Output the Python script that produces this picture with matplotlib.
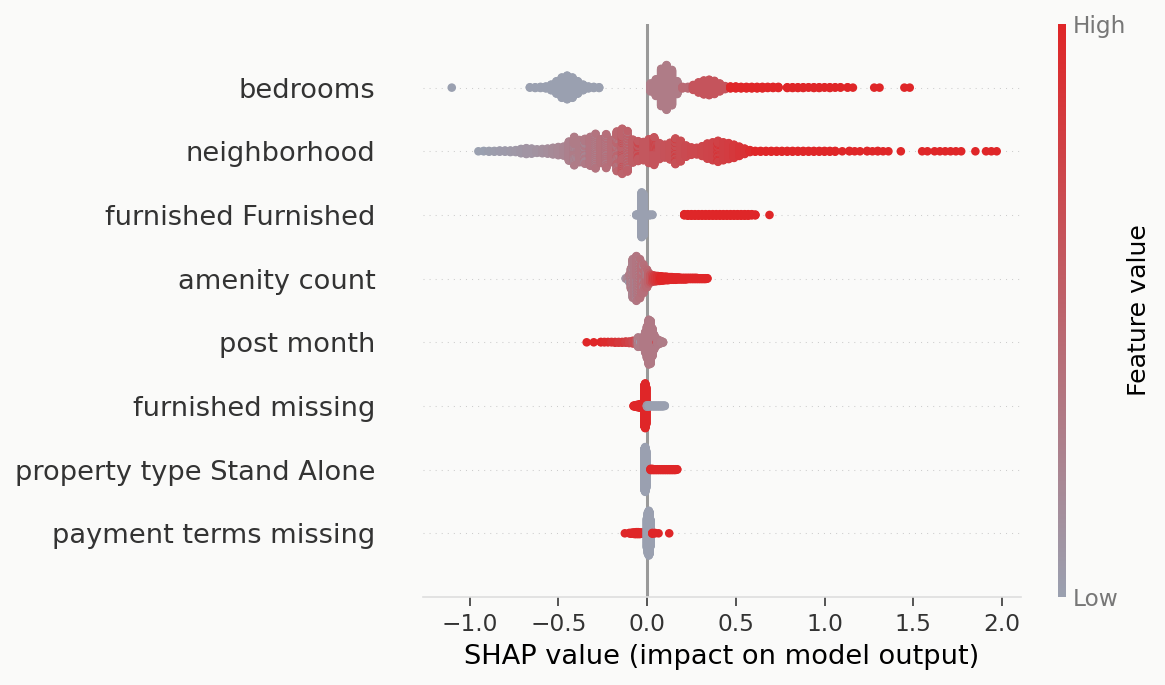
import numpy as np
import matplotlib
matplotlib.use('Agg')
import matplotlib.pyplot as plt
from matplotlib.colors import LinearSegmentedColormap
from matplotlib import cm

# feature names, bottom to top
features = ['payment terms missing', 'property type Stand Alone', 'furnished missing',
            'post month', 'amenity count', 'furnished Furnished', 'neighborhood', 'bedrooms']

# per feature: shap value positions, how many samples sit there, feature value (0=low, 1=high)
bed_x = [-1.10, -0.66, -0.63, -0.60, -0.57, -0.54, -0.51, -0.48, -0.45, -0.42, -0.39, -0.36, -0.33, -0.30, -0.27,
         0.02, 0.05, 0.08, 0.11, 0.14, 0.17, 0.20, 0.23,
         0.26, 0.29, 0.32, 0.35, 0.38, 0.41, 0.44,
         0.47, 0.50, 0.53, 0.56, 0.59, 0.62, 0.65, 0.68, 0.71, 0.74,
         0.79, 0.82, 0.85, 0.88, 0.91, 0.94, 0.97, 1.00, 1.03, 1.06, 1.09,
         1.13, 1.16, 1.28, 1.31, 1.45, 1.48]
bed_n = [1, 2, 3, 4, 6, 16, 34, 55, 64, 55, 34, 16, 6, 4, 3,
         22, 45, 100, 120, 95, 35, 5, 5,
         14, 28, 38, 42, 36, 22, 9,
         6, 6, 5, 5, 5, 5, 5, 4, 4, 4,
         3, 3, 3, 3, 2, 3, 3, 2, 3, 2, 2,
         2, 1, 1, 1, 1, 1]
bed_c = [0.0] * 15 + [0.3] * 6 + [0.45] * 2 + [0.62] * 7 + [1.0] * 27

nb_x = [-0.95, -0.92, -0.89, -0.86, -0.83, -0.80, -0.77, -0.74, -0.71, -0.68, -0.65, -0.62,
        -0.59, -0.56, -0.53, -0.50, -0.47, -0.44, -0.41, -0.38, -0.35, -0.32, -0.29, -0.26,
        -0.23, -0.20, -0.17, -0.14, -0.11, -0.08, -0.05, -0.02, 0.01, 0.04, 0.07, 0.10,
        0.13, 0.16, 0.19, 0.22, 0.25, 0.28, 0.31, 0.34, 0.37, 0.40, 0.43, 0.46, 0.49,
        0.52, 0.55, 0.58,
        0.61, 0.64, 0.67, 0.70, 0.73, 0.76, 0.79, 0.82, 0.85, 0.88, 0.91, 0.94, 0.97, 1.00, 1.03, 1.06,
        1.10, 1.14, 1.17, 1.20, 1.24, 1.27, 1.30, 1.33, 1.36, 1.43, 1.55, 1.58,
        1.62, 1.65, 1.68, 1.71, 1.74, 1.77, 1.85, 1.91, 1.94, 1.97,
        -0.41, -0.35, -0.29, -0.23, -0.17, -0.11, -0.14, -0.05, 0.04, 0.16, 0.40]
nb_n = [1, 2, 3, 3, 4, 4, 5, 6, 12, 16, 14, 10,
        12, 14, 18, 22, 24, 50, 62, 58, 50, 75, 72, 62,
        70, 58, 85, 105, 90, 60, 40, 48, 62, 60, 42, 34,
        44, 57, 54, 30, 20, 18, 26, 40, 47, 45, 47, 42, 35,
        25, 15, 6,
        3, 3, 3, 3, 3, 3, 3, 3, 3, 3, 3, 3, 3, 3, 3, 3,
        1, 2, 1, 1, 2, 1, 2, 1, 1, 1, 1, 1,
        1, 1, 1, 1, 1, 1, 1, 1, 1, 1,
        12, 15, 18, 18, 18, 15, 12, 12, 12, 10, 10]
nb_c = [0.0, 0.0, 0.02, 0.03, 0.04, 0.05, 0.06, 0.07, 0.08, 0.10, 0.10, 0.12,
        0.14, 0.16, 0.18, 0.20, 0.22, 0.26, 0.30, 0.30, 0.32, 0.35, 0.36, 0.38,
        0.40, 0.42, 0.48, 0.50, 0.52, 0.55, 0.58, 0.60, 0.60, 0.62, 0.62, 0.64,
        0.65, 0.66, 0.68, 0.70, 0.72, 0.72, 0.74, 0.75, 0.76, 0.78, 0.80, 0.82, 0.85,
        0.88, 0.90, 0.95] + [1.0] * 38 + [0.1, 0.12, 0.15, 0.2, 0.2, 0.25, 0.8, 0.85, 0.9, 0.95, 1.0]

ff_x = [-0.06, -0.05, -0.03, -0.02, 0.00, 0.015, 0.03,
        0.21, 0.23, 0.25, 0.27, 0.29, 0.31, 0.33, 0.35, 0.37, 0.39, 0.41, 0.43, 0.45,
        0.47, 0.49, 0.51, 0.53, 0.55, 0.57, 0.59, 0.61, 0.69]
ff_n = [3, 4, 120, 110, 3, 3, 2,
        4, 5, 5, 5, 5, 5, 5, 5, 5, 5, 5, 5, 5, 5, 5, 5, 5, 5, 5, 4, 3, 1]
ff_c = [0.0] * 7 + [1.0] * 22

am_x = [-0.12, -0.11, -0.10, -0.09, -0.08, -0.07, -0.06, -0.05, -0.04, -0.03, -0.02, -0.01,
        0.00, 0.01, 0.02, 0.03, 0.04, 0.05, 0.06, 0.07, 0.08,
        0.09, 0.10, 0.11, 0.12, 0.13, 0.14, 0.15, 0.16, 0.17, 0.18, 0.19, 0.20, 0.21, 0.22,
        0.23, 0.24, 0.25, 0.26, 0.27, 0.28, 0.29, 0.30, 0.31, 0.32, 0.33, 0.34,
        -0.10, -0.08, -0.06, -0.04, -0.02, 0.00]
am_n = [2, 5, 14, 55, 90, 100, 105, 100, 90, 78, 65, 52,
        40, 30, 22, 18, 16, 15, 14, 13, 12,
        11, 10, 10, 9, 8, 8, 7, 7, 6, 6, 5, 5, 5, 5,
        4, 4, 4, 4, 4, 4, 3, 3, 3, 3, 3, 2,
        6, 14, 15, 15, 12, 8]
am_c = [0.1, 0.2, 0.3, 0.3, 0.3, 0.32, 0.35, 0.35, 0.38, 0.4, 0.4, 0.42,
        0.45, 0.5, 0.6, 0.7, 0.8, 0.85, 0.9, 0.95, 1.0] + [1.0] * 26 + [0.0] * 6

pm_x = [-0.34, -0.30, -0.26, -0.24, -0.22, -0.20, -0.18, -0.16, -0.14, -0.12, -0.10, -0.08, -0.06,
        -0.05, -0.04, -0.03, -0.02, -0.01, 0.00, 0.01, 0.02, 0.03, 0.04, 0.05, 0.06, 0.07, 0.08, 0.09,
        -0.05, -0.035, 0.055]
pm_n = [1, 1, 2, 2, 2, 2, 3, 3, 3, 4, 5, 8, 12,
        20, 22, 25, 30, 55, 85, 120, 115, 75, 40, 22, 14, 10, 6, 3,
        6, 6, 1]
pm_c = [1.0, 1.0, 1.0, 0.95, 0.95, 0.9, 0.9, 0.85, 0.85, 0.8, 0.75, 0.7, 0.6,
        0.3, 0.3, 0.3, 0.32, 0.32, 0.32, 0.32, 0.32, 0.32, 0.32, 0.32, 0.32, 0.32, 0.3, 0.3,
        0.05, 0.05, 1.0]

fm_x = [-0.075, -0.065, -0.055, -0.045, -0.035, -0.025, -0.015, -0.01, -0.005,
        0.0, 0.01, 0.02, 0.03, 0.04, 0.05, 0.06, 0.07, 0.08, 0.09, 0.10]
fm_n = [3, 5, 7, 9, 11, 14, 110, 120, 100,
        5, 4, 3, 3, 3, 3, 3, 3, 3, 3, 2]
fm_c = [1.0] * 9 + [0.1] + [0.0] * 10

pt_x = [-0.015, -0.01, -0.005,
        0.02, 0.03, 0.04, 0.05, 0.06, 0.07, 0.08, 0.09, 0.10, 0.11, 0.12, 0.13, 0.14, 0.15, 0.16, 0.17]
pt_n = [110, 120, 100,
        4, 4, 3, 3, 3, 3, 3, 3, 3, 3, 3, 3, 3, 3, 3, 2]
pt_c = [0.0] * 3 + [1.0] * 16

pay_x = [0.0, 0.005, 0.01, 0.015, 0.02,
         -0.125, -0.10, -0.09, -0.08, -0.07, -0.06, -0.05, -0.04, -0.03, -0.02,
         0.03, 0.045, 0.065, 0.125]
pay_n = [80, 110, 120, 110, 70,
         1, 2, 3, 4, 5, 6, 6, 5, 4, 4,
         3, 2, 1, 1]
pay_c = [0.0] * 5 + [1.0] * 14

rows = [(pay_x, pay_n, pay_c), (pt_x, pt_n, pt_c), (fm_x, fm_n, fm_c), (pm_x, pm_n, pm_c),
        (am_x, am_n, am_c), (ff_x, ff_n, ff_c), (nb_x, nb_n, nb_c), (bed_x, bed_n, bed_c)]


def swarm(xs, ns, cs, nbins=100, row_height=0.4):
    # same stacking rule as shap's dot summary, without the random tie-break
    x = np.repeat(np.array(xs, float), ns)
    c = np.repeat(np.array(cs, float), ns)
    k = np.concatenate([(np.arange(n) + 0.5) / n for n in ns])
    quant = np.round(nbins * (x - x.min()) / (x.max() - x.min() + 1e-8))
    inds = np.argsort(quant + 0.5 * k, kind='stable')
    ys = np.zeros(len(x))
    layer = 0
    last = -1
    for i in inds:
        if quant[i] != last:
            layer = 0
        ys[i] = np.ceil(layer / 2) * ((layer % 2) * 2 - 1)
        layer += 1
        last = quant[i]
    ys *= 0.9 * (row_height / np.max(ys + 1))
    return x[inds], ys[inds], c[inds]


bg = '#fafaf9'
cmap = LinearSegmentedColormap.from_list('lowhigh', ['#9aa0b0', '#df2628'])

fig = plt.figure(figsize=(8, 4.704), dpi=145.625, facecolor=bg)
ax = fig.add_axes([0.3631, 0.1285, 0.5133, 0.8365], facecolor=bg)

ax.axvline(x=0, color='#999999', lw=1.5, zorder=-1)
for pos, (xs, ns, cs) in enumerate(rows):
    ax.axhline(y=pos, color='#cccccc', lw=0.5, dashes=(1, 5), zorder=-1)
    px, py, pc = swarm(xs, ns, cs)
    ax.scatter(px, pos + py, c=pc, cmap=cmap, vmin=0, vmax=1, s=18, linewidth=0, zorder=3)

ax.set_xlim(-1.262, 2.107)
ax.set_ylim(-1, len(features))
ax.set_xticks([-1.0, -0.5, 0.0, 0.5, 1.0, 1.5, 2.0])
ax.set_yticks(range(len(features)))
ax.set_yticklabels(features, fontsize=13.5)
ax.xaxis.set_ticks_position('bottom')
ax.yaxis.set_ticks_position('none')
for s in ['right', 'top', 'left']:
    ax.spines[s].set_visible(False)
ax.spines['bottom'].set_color('#dddddd')
ax.tick_params(color='#333333', labelcolor='#333333')
ax.tick_params('y', length=20, width=0.5, which='major')
ax.tick_params('x', labelsize=11.5, length=4.5, pad=3.5)
ax.set_xlabel('SHAP value (impact on model output)', fontsize=13.5)

cax = fig.add_axes([0.9082, 0.1285, 0.0069, 0.8365])
m = cm.ScalarMappable(cmap=cmap)
m.set_array([0, 1])
cb = fig.colorbar(m, cax=cax, ticks=[0, 1])
cb.set_ticklabels(['Low', 'High'])
cb.set_label('Feature value', size=12.5, labelpad=0)
cb.ax.tick_params(labelsize=11.5, length=0, labelcolor='#777777')
cb.outline.set_visible(False)

fig.savefig('out.png', dpi=145.625, facecolor=bg)
